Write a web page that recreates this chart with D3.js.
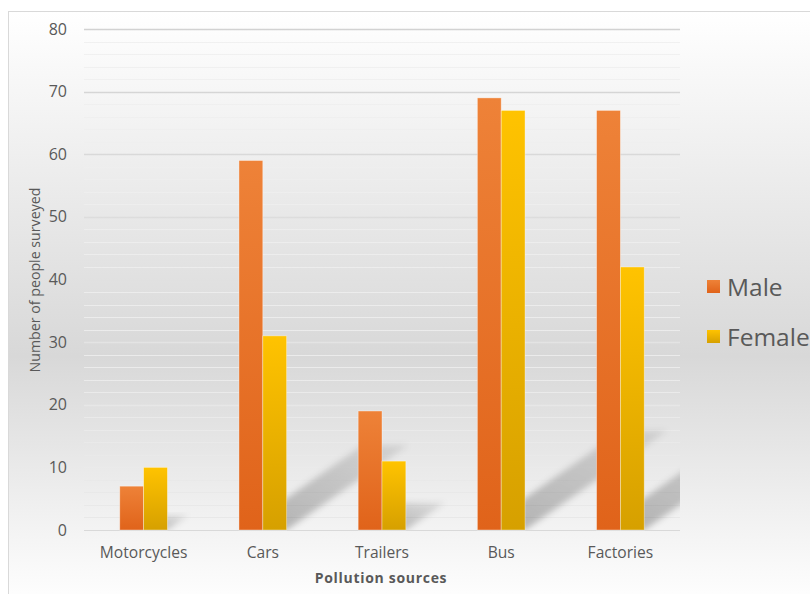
<!DOCTYPE html>
<html lang="en">
<head>
    <meta charset="UTF-8">
    <title>Pollution sources</title>
    <script src="https://d3js.org/d3.v7.min.js"></script>
    <style>
        body { margin: 0; background: #fff; }
        text { font-family: "Open Sans", sans-serif; fill: #595959; }
    </style>
</head>
<body>
<script>

    // data
    var categories = ["Motorcycles", "Cars", "Trailers", "Bus", "Factories"];
    var seriesNames = ["Male", "Female"];
    var maleValues = [7, 59, 19, 69, 67];
    var femaleValues = [10, 31, 11, 67, 42];
    var yTicks = [0, 10, 20, 30, 40, 50, 60, 70, 80];

    var width = 810;
    var height = 594;
    var plot = { left: 84, right: 680, top: 29, bottom: 530 };

    var svg = d3.select("body").append("svg")
        .attr("width", width)
        .attr("height", height);

    var defs = svg.append("defs");

    // chart background gradient (white - grey - white)
    var bg = defs.append("linearGradient").attr("id", "bg")
        .attr("x1", 0).attr("y1", 0).attr("x2", 0).attr("y2", 1);
    bg.append("stop").attr("offset", "0%").attr("stop-color", "#ffffff");
    bg.append("stop").attr("offset", "58%").attr("stop-color", "#d8d8d8");
    bg.append("stop").attr("offset", "100%").attr("stop-color", "#ffffff");

    // gridline gradients, darker than bg at top, lighter in the grey middle
    var gMaj = defs.append("linearGradient").attr("id", "gMaj")
        .attr("gradientUnits", "userSpaceOnUse")
        .attr("x1", 0).attr("y1", plot.top).attr("x2", 0).attr("y2", plot.bottom);
    gMaj.append("stop").attr("offset", "0%").attr("stop-color", "#d2d2d2");
    gMaj.append("stop").attr("offset", "100%").attr("stop-color", "#eeeeee");
    var gMin = defs.append("linearGradient").attr("id", "gMin")
        .attr("gradientUnits", "userSpaceOnUse")
        .attr("x1", 0).attr("y1", plot.top).attr("x2", 0).attr("y2", plot.bottom);
    gMin.append("stop").attr("offset", "0%").attr("stop-color", "#f1f1f1");
    gMin.append("stop").attr("offset", "100%").attr("stop-color", "#e8e8e8");

    // bar gradients
    function barGradient(id, top, bottom) {
        var g = defs.append("linearGradient").attr("id", id)
            .attr("x1", 0).attr("y1", 0).attr("x2", 0).attr("y2", 1);
        g.append("stop").attr("offset", "0%").attr("stop-color", top);
        g.append("stop").attr("offset", "100%").attr("stop-color", bottom);
    }
    barGradient("male", "#ee8238", "#e0631a");
    barGradient("female", "#ffc300", "#d6a000");
    var fills = { Male: "url(#male)", Female: "url(#female)" };

    // shadow
    var sg = defs.append("linearGradient").attr("id", "shade")
        .attr("x1", 0).attr("y1", 1).attr("x2", 1).attr("y2", 0);
    sg.append("stop").attr("offset", "0%").attr("stop-color", "#000").attr("stop-opacity", 0.28);
    sg.append("stop").attr("offset", "100%").attr("stop-color", "#000").attr("stop-opacity", 0.08);
    defs.append("filter").attr("id", "blur")
        .attr("x", "-20%").attr("y", "-20%").attr("width", "140%").attr("height", "140%")
        .append("feGaussianBlur").attr("stdDeviation", 3);
    defs.append("clipPath").attr("id", "plotClip")
        .append("rect")
        .attr("x", plot.left).attr("y", plot.top)
        .attr("width", plot.right - plot.left).attr("height", plot.bottom - plot.top);

    // chart area
    svg.append("rect")
        .attr("x", 8.5).attr("y", 11.5)
        .attr("width", width).attr("height", height)
        .attr("fill", "url(#bg)")
        .attr("stroke", "#d9d9d9");

    var x = d3.scaleBand()
        .domain(categories)
        .range([plot.left, plot.right])
        .paddingInner(0.6)
        .paddingOuter(0.3);

    var x1 = d3.scaleBand()
        .domain(seriesNames)
        .range([0, x.bandwidth()]);

    var y = d3.scaleLinear()
        .domain([0, 80])
        .range([plot.bottom, plot.top]);

    // gridlines
    var minor = d3.range(0, 81, 2).filter(function(d) { return d % 10 !== 0; });
    svg.append("g").selectAll("line")
        .data(minor)
        .enter().append("line")
        .attr("x1", plot.left).attr("x2", plot.right)
        .attr("y1", function(d) { return Math.round(y(d)) + 0.5; })
        .attr("y2", function(d) { return Math.round(y(d)) + 0.5; })
        .attr("stroke", "url(#gMin)");

    svg.append("g").selectAll("line")
        .data(yTicks.slice(1))
        .enter().append("line")
        .attr("x1", plot.left).attr("x2", plot.right)
        .attr("y1", function(d) { return Math.round(y(d)) + 0.5; })
        .attr("y2", function(d) { return Math.round(y(d)) + 0.5; })
        .attr("stroke", "url(#gMaj)")
        .attr("stroke-width", 1.3);

    var rows = categories.map(function(c, i) {
        return { category: c, Male: maleValues[i], Female: femaleValues[i] };
    });

    // shadows cast by each pair of bars
    svg.append("g")
        .attr("clip-path", "url(#plotClip)")
        .selectAll("polygon")
        .data(rows)
        .enter().append("polygon")
        .attr("points", function(d) {
            var h = plot.bottom - y(Math.max(d.Male, d.Female));
            var x0 = x(d.category) + 2, xe = x(d.category) + x.bandwidth();
            var dx = 0.33 * h, dy = 0.23 * h;
            return [[x0, plot.bottom], [xe, plot.bottom],
                [xe + dx, plot.bottom - dy], [x0 + dx, plot.bottom - dy]].join(" ");
        })
        .attr("fill", "url(#shade)")
        .attr("filter", "url(#blur)");

    // baseline
    svg.append("line")
        .attr("x1", plot.left).attr("x2", plot.right)
        .attr("y1", y(0) + 0.5).attr("y2", y(0) + 0.5)
        .attr("stroke", "#d9d9d9");

    // bars
    svg.append("g")
        .selectAll("g")
        .data(rows)
        .enter().append("g")
        .attr("transform", function(d) { return "translate(" + x(d.category) + ",0)"; })
        .selectAll("rect")
        .data(function(d) { return seriesNames.map(function(s) { return { key: s, value: d[s] }; }); })
        .enter().append("rect")
        .attr("x", function(d) { return x1(d.key); })
        .attr("y", function(d) { return y(d.value); })
        .attr("width", x1.bandwidth())
        .attr("height", function(d) { return y(0) - y(d.value); })
        .attr("fill", function(d) { return fills[d.key]; })
        .attr("stroke", "rgba(255,255,255,0.45)")
        .attr("stroke-width", 0.8);

    // y axis labels
    svg.append("g").selectAll("text")
        .data(yTicks)
        .enter().append("text")
        .attr("x", 67)
        .attr("y", function(d) { return y(d); })
        .attr("dy", "0.35em")
        .attr("text-anchor", "end")
        .style("font-size", "16px")
        .text(function(d) { return d; });

    // x axis labels
    svg.append("g").selectAll("text")
        .data(categories)
        .enter().append("text")
        .attr("x", function(d) { return x(d) + x.bandwidth() / 2; })
        .attr("y", 553)
        .attr("dy", "0.35em")
        .attr("text-anchor", "middle")
        .style("font-size", "15.6px")
        .text(function(d) { return d; });

    // axis titles
    svg.append("text")
        .attr("x", (plot.left + plot.right) / 2 - 1)
        .attr("y", 578)
        .attr("dy", "0.35em")
        .attr("text-anchor", "middle")
        .style("font-size", "14px")
        .style("font-weight", "bold")
        .style("letter-spacing", "0.7px")
        .text("Pollution sources");

    svg.append("text")
        .attr("transform", "translate(35,280) rotate(-90)")
        .attr("dy", "0.35em")
        .attr("text-anchor", "middle")
        .style("font-size", "14.2px")
        .text("Number of people surveyed");

    // legend
    var legend = svg.append("g").selectAll("g")
        .data(seriesNames)
        .enter().append("g")
        .attr("transform", function(d, i) { return "translate(707," + (280 + i * 50) + ")"; });
    legend.append("rect")
        .attr("width", 13).attr("height", 13)
        .attr("fill", function(d) { return fills[d]; });
    legend.append("text")
        .attr("x", 20)
        .attr("y", 7)
        .attr("dy", "0.35em")
        .style("font-size", "24.5px")
        .text(function(d) { return d; });

</script>
</body>
</html>
